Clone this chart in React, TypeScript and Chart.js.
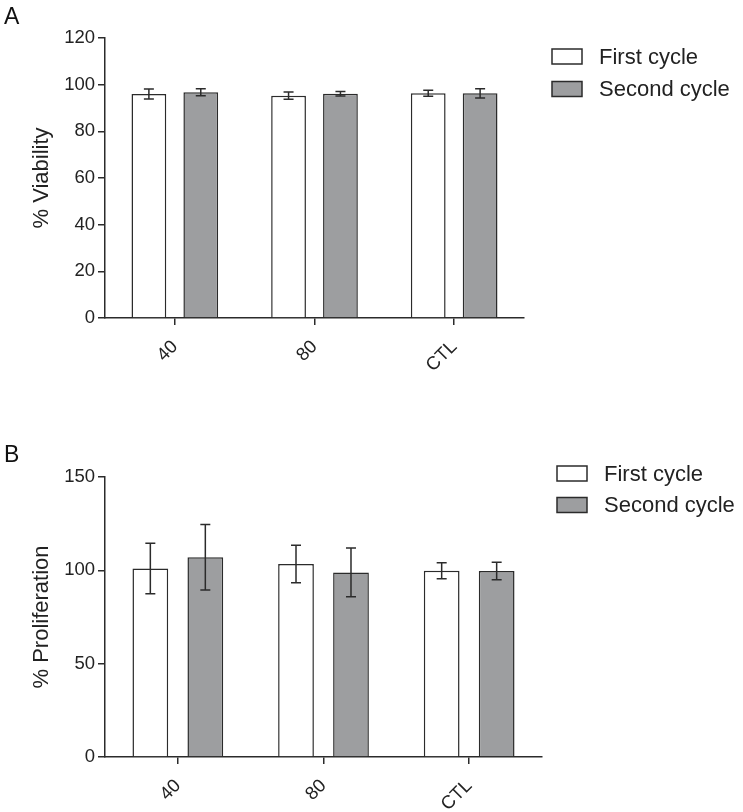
import React, { useEffect, useRef } from "react";
import { Chart, registerables } from "chart.js";

Chart.register(...registerables);

const categories = ["40", "80", "CTL"];
const seriesNames = ["First cycle", "Second cycle"];

const viabilityFirst = [96.0, 95.3, 96.3];
const viabilityFirstErr = [2.1, 1.6, 1.3];
const viabilitySecond = [96.7, 96.1, 96.3];
const viabilitySecondErr = [1.5, 1.0, 2.0];

const proliferationFirst = [101.0, 103.4, 99.8];
const proliferationFirstErr = [13.5, 10.1, 4.3];
const proliferationSecond = [107.0, 98.9, 99.6];
const proliferationSecondErr = [17.5, 13.0, 4.7];

const viabilityTicks = [0, 20, 40, 60, 80, 100, 120];
const proliferationTicks = [0, 50, 100, 150];

const FONT = "'Liberation Sans', Arial, Helvetica, sans-serif";
const INK = "#2b2b2b";
const GRAY = "#9d9ea0";

const errorBarPlugin = {
  id: "errorBars",
  afterDatasetsDraw(chart: any, _args: any, opts: any) {
    const ctx = chart.ctx;
    const yScale = chart.scales.y;
    ctx.save();
    ctx.strokeStyle = INK;
    ctx.lineWidth = 1.5;
    chart.data.datasets.forEach((ds: any, i: number) => {
      const meta = chart.getDatasetMeta(i);
      meta.data.forEach((el: any, j: number) => {
        const v = ds.data[j];
        const e = ds.errors[j];
        const x = el.x;
        const yTop = yScale.getPixelForValue(v + e);
        const yBot = yScale.getPixelForValue(v - e);
        const half = (opts && opts.cap) || 5;
        ctx.beginPath();
        ctx.moveTo(x, yTop);
        ctx.lineTo(x, yBot);
        ctx.moveTo(x - half, yTop);
        ctx.lineTo(x + half, yTop);
        ctx.moveTo(x - half, yBot);
        ctx.lineTo(x + half, yBot);
        ctx.stroke();
      });
    });
    ctx.restore();
  },
};

const sideLegendPlugin = {
  id: "sideLegend",
  afterDraw(chart: any, _args: any, opts: any) {
    const ctx = chart.ctx;
    const area = chart.chartArea;
    ctx.save();
    chart.data.datasets.forEach((ds: any, i: number) => {
      const bx = area.right + opts.dx;
      const cy = area.top + opts.dy + i * opts.gap;
      ctx.fillStyle = ds.backgroundColor;
      ctx.strokeStyle = INK;
      ctx.lineWidth = 1.5;
      ctx.fillRect(bx, cy - opts.boxH / 2, opts.boxW, opts.boxH);
      ctx.strokeRect(bx, cy - opts.boxH / 2, opts.boxW, opts.boxH);
      ctx.fillStyle = "#222";
      ctx.font = `${opts.fontSize}px ${FONT}`;
      ctx.textBaseline = "middle";
      ctx.textAlign = "left";
      ctx.fillText(ds.label, bx + opts.textDx, cy + 1);
    });
    ctx.restore();
  },
};

const panelLabelPlugin = {
  id: "panelLabel",
  afterDraw(chart: any, _args: any, opts: any) {
    const ctx = chart.ctx;
    ctx.save();
    ctx.fillStyle = "#111";
    ctx.font = `${opts.size}px ${FONT}`;
    ctx.textBaseline = "alphabetic";
    ctx.textAlign = "left";
    ctx.fillText(opts.text, opts.x, opts.y);
    ctx.restore();
  },
};

type PanelProps = {
  label: string;
  title: string;
  first: number[];
  firstErr: number[];
  second: number[];
  secondErr: number[];
  ticks: number[];
  height: number;
  padTop: number;
  padRight: number;
  xHeight: number;
  catPct: number;
  barPct: number;
  legend: any;
  labelY: number;
};

function Panel(p: PanelProps) {
  const ref = useRef<HTMLCanvasElement | null>(null);
  useEffect(() => {
    if (!ref.current) return;
    const chart = new Chart(ref.current, {
      type: "bar",
      data: {
        labels: categories,
        datasets: [
          {
            label: seriesNames[0],
            data: p.first,
            errors: p.firstErr,
            backgroundColor: "#ffffff",
            borderColor: INK,
            borderWidth: 1.5,
            categoryPercentage: p.catPct,
            barPercentage: p.barPct,
          } as any,
          {
            label: seriesNames[1],
            data: p.second,
            errors: p.secondErr,
            backgroundColor: GRAY,
            borderColor: INK,
            borderWidth: 1.5,
            categoryPercentage: p.catPct,
            barPercentage: p.barPct,
          } as any,
        ],
      },
      options: {
        responsive: false,
        animation: false,
        layout: { padding: { top: p.padTop, right: p.padRight, bottom: 0, left: 0 } },
        scales: {
          x: {
            afterFit: (s: any) => {
              s.height = p.xHeight;
            },
            grid: {
              display: true,
              offset: false,
              drawOnChartArea: false,
              drawTicks: true,
              tickLength: 7,
              color: INK,
              lineWidth: 1.5,
            },
            border: { display: true, color: INK, width: 1.5 },
            ticks: {
              minRotation: 45,
              maxRotation: 45,
              color: "#222",
              padding: 11,
              font: { family: FONT, size: 18.5 },
            },
          },
          y: {
            min: p.ticks[0],
            max: p.ticks[p.ticks.length - 1],
            afterFit: (s: any) => {
              s.width = 105;
            },
            afterBuildTicks: (s: any) => {
              s.ticks = p.ticks.map((v) => ({ value: v }));
            },
            grid: {
              display: true,
              drawOnChartArea: false,
              drawTicks: true,
              tickLength: 7,
              color: INK,
              lineWidth: 1.5,
            },
            border: { display: true, color: INK, width: 1.5 },
            ticks: {
              color: "#222",
              padding: 3,
              font: { family: FONT, size: 18.5 },
            },
            title: {
              display: true,
              text: p.title,
              color: "#222",
              font: { family: FONT, size: 22 },
              padding: { top: 29, bottom: 0 },
            },
          },
        },
        plugins: {
          legend: { display: false },
          tooltip: { enabled: false },
          errorBars: { cap: 5 },
          sideLegend: p.legend,
          panelLabel: { text: p.label, x: 4, y: p.labelY, size: 23 },
        } as any,
      },
      plugins: [errorBarPlugin, sideLegendPlugin, panelLabelPlugin],
    });
    return () => chart.destroy();
  }, []);
  return (
    <canvas
      ref={ref}
      width={743}
      height={p.height}
      style={{ display: "block", width: 743, height: p.height }}
    />
  );
}

export default function App() {
  return (
    <div style={{ position: "absolute", left: 0, top: 0, width: 743, height: 812, background: "#fff", overflow: "hidden" }}>
      <div style={{ position: "absolute", left: 0, top: 0 }}>
        <Panel
          label="A"
          title="% Viability"
          first={viabilityFirst}
          firstErr={viabilityFirstErr}
          second={viabilitySecond}
          secondErr={viabilitySecondErr}
          ticks={viabilityTicks}
          height={400}
          padTop={38}
          padRight={219}
          xHeight={82}
          catPct={0.743}
          barPct={0.67}
          legend={{ dx: 28, dy: 18.5, gap: 32.5, boxW: 30, boxH: 15, textDx: 47, fontSize: 22 }}
          labelY={24}
        />
      </div>
      <div style={{ position: "absolute", left: 0, top: 410 }}>
        <Panel
          label="B"
          title="% Proliferation"
          first={proliferationFirst}
          firstErr={proliferationFirstErr}
          second={proliferationSecond}
          secondErr={proliferationSecondErr}
          ticks={proliferationTicks}
          height={402}
          padTop={67}
          padRight={201}
          xHeight={55}
          catPct={0.755}
          barPct={0.65}
          legend={{ dx: 15, dy: -3.5, gap: 31.5, boxW: 30, boxH: 15, textDx: 47, fontSize: 22 }}
          labelY={52}
        />
      </div>
    </div>
  );
}
